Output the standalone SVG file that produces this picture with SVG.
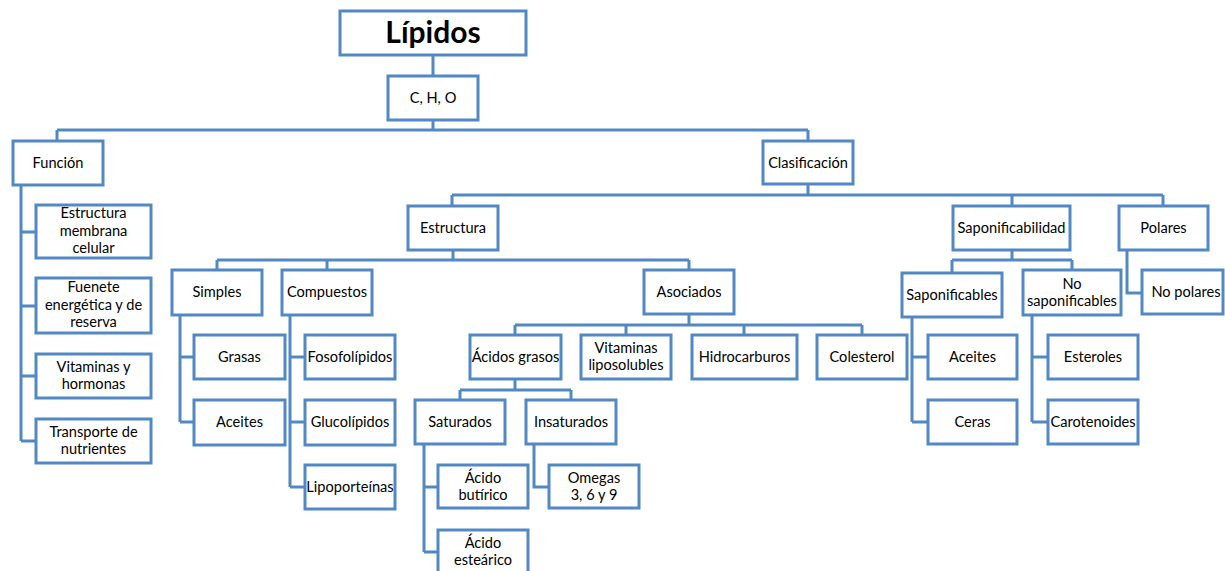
<svg xmlns="http://www.w3.org/2000/svg" width="1225" height="571" viewBox="0 0 1225 571">
  <style>
    .box { fill: #ffffff; stroke: #5289C4; stroke-width: 3; }
    .link { fill: none; stroke: #5289C4; stroke-width: 3; stroke-linejoin: miter; }
    text { font-family: Lato, "Open Sans", "Liberation Sans", sans-serif; font-size: 14.6px; fill: #000000; text-anchor: middle; }
    .title { font-size: 30px; font-weight: bold; }
  </style>
  <rect width="1225" height="571" fill="#ffffff"/>

  <!-- connectors -->
  <g id="connectors" class="link">
    <path d="M433,56 V75"/>
    <path d="M433,121 V130 M57,130 H808 M57,130 V140 M808,130 V140"/>
    <path d="M21,186 V441 M21,232 H35 M21,306 H35 M21,376 H35 M21,441 H35"/>
    <path d="M808,185 V195 M452,195 H1163 M452,195 V205 M1012,195 V205 M1163,195 V205"/>
    <path d="M453,251 V260 M217,260 H689 M217,260 V269 M327,260 V269 M689,260 V269"/>
    <path d="M180,316 V422 M180,357 H193 M180,422 H193"/>
    <path d="M290,316 V487 M290,357 H304 M290,422 H304 M290,487 H304"/>
    <path d="M689,315 V325 M515,325 H862 M515,325 V334 M626,325 V334 M744,325 V334 M862,325 V334"/>
    <path d="M515,380 V390 M460,390 H571 M460,390 V399 M571,390 V399"/>
    <path d="M424,445 V552 M424,487 H437 M424,552 H437"/>
    <path d="M534,445 V487 H548"/>
    <path d="M1012,251 V260 M952,260 H1072 M952,260 V272 M1072,260 V269"/>
    <path d="M912,318 V422 M912,357 H927 M912,422 H927"/>
    <path d="M1032,316 V422 M1032,357 H1047 M1032,422 H1047"/>
    <path d="M1127,251 V293 H1141"/>
  </g>

  <!-- root -->
  <g id="lipidos"><rect class="box" x="340" y="11" width="186" height="44"/><text class="title" x="433" y="43">Lípidos</text></g>
  <g id="cho"><rect class="box" x="388" y="76" width="90" height="44"/><text x="433" y="103">C, H, O</text></g>

  <!-- Función branch -->
  <g id="funcion"><rect class="box" x="13" y="141" width="90" height="44"/><text x="58" y="168">Función</text></g>
  <g id="estructura-membrana"><rect class="box" x="36" y="205" width="115" height="53"/><text x="93.5" y="218">Estructura</text><text x="93.5" y="236">membrana</text><text x="93.5" y="253">celular</text></g>
  <g id="fuente-energetica"><rect class="box" x="36" y="278" width="115" height="55"/><text x="93.5" y="292">Fuenete</text><text x="93.5" y="310">energética y de</text><text x="93.5" y="327">reserva</text></g>
  <g id="vitaminas-hormonas"><rect class="box" x="36" y="354" width="115" height="44"/><text x="93.5" y="372">Vitaminas y</text><text x="93.5" y="389">hormonas</text></g>
  <g id="transporte"><rect class="box" x="36" y="419" width="115" height="44"/><text x="93.5" y="437">Transporte de</text><text x="93.5" y="454">nutrientes</text></g>

  <!-- Clasificación branch -->
  <g id="clasificacion"><rect class="box" x="763" y="141" width="90" height="43"/><text x="808" y="168">Clasificación</text></g>
  <g id="estructura"><rect class="box" x="408" y="206" width="90" height="44"/><text x="453" y="233">Estructura</text></g>
  <g id="saponificabilidad"><rect class="box" x="953" y="206" width="117" height="44"/><text x="1011.5" y="233">Saponificabilidad</text></g>
  <g id="polares"><rect class="box" x="1119" y="206" width="89" height="44"/><text x="1163.5" y="233">Polares</text></g>

  <g id="simples"><rect class="box" x="172" y="270" width="90" height="45"/><text x="217" y="297">Simples</text></g>
  <g id="compuestos"><rect class="box" x="282" y="270" width="90" height="45"/><text x="327" y="297">Compuestos</text></g>
  <g id="asociados"><rect class="box" x="644" y="270" width="90" height="44"/><text x="689" y="297">Asociados</text></g>

  <g id="grasas"><rect class="box" x="194" y="335" width="91" height="44"/><text x="239.5" y="362">Grasas</text></g>
  <g id="aceites-simples"><rect class="box" x="194" y="400" width="91" height="45"/><text x="239.5" y="427">Aceites</text></g>

  <g id="fosfolipidos"><rect class="box" x="305" y="335" width="90" height="44"/><text x="350" y="362">Fosofolípidos</text></g>
  <g id="glucolipidos"><rect class="box" x="305" y="400" width="90" height="45"/><text x="350" y="427">Glucolípidos</text></g>
  <g id="lipoproteinas"><rect class="box" x="305" y="465" width="90" height="44"/><text x="350" y="492">Lipoporteínas</text></g>

  <g id="acidos-grasos"><rect class="box" x="470" y="335" width="91" height="44"/><text x="515.5" y="362">Ácidos grasos</text></g>
  <g id="vitaminas-liposolubles"><rect class="box" x="581" y="335" width="90" height="44"/><text x="626" y="353">Vitaminas</text><text x="626" y="370">liposolubles</text></g>
  <g id="hidrocarburos"><rect class="box" x="692" y="335" width="105" height="44"/><text x="744.5" y="362">Hidrocarburos</text></g>
  <g id="colesterol"><rect class="box" x="817" y="335" width="90" height="44"/><text x="862" y="362">Colesterol</text></g>

  <g id="saturados"><rect class="box" x="415" y="400" width="90" height="44"/><text x="460" y="427">Saturados</text></g>
  <g id="insaturados"><rect class="box" x="526" y="400" width="90" height="44"/><text x="571" y="427">Insaturados</text></g>
  <g id="acido-butirico"><rect class="box" x="438" y="465" width="90" height="43"/><text x="483" y="483">Ácido</text><text x="483" y="500">butírico</text></g>
  <g id="acido-estearico"><rect class="box" x="438" y="530" width="90" height="44"/><text x="483" y="548">Ácido</text><text x="483" y="565">esteárico</text></g>
  <g id="omegas"><rect class="box" x="549" y="465" width="90" height="43"/><text x="594" y="483">Omegas</text><text x="594" y="500">3, 6 y 9</text></g>

  <g id="saponificables"><rect class="box" x="902" y="273" width="100" height="44"/><text x="952" y="300">Saponificables</text></g>
  <g id="no-saponificables"><rect class="box" x="1023" y="270" width="98" height="45"/><text x="1072" y="289">No</text><text x="1072" y="306">saponificables</text></g>
  <g id="aceites-saponificables"><rect class="box" x="928" y="335" width="89" height="44"/><text x="972.5" y="362">Aceites</text></g>
  <g id="ceras"><rect class="box" x="928" y="400" width="89" height="44"/><text x="972.5" y="427">Ceras</text></g>
  <g id="esteroles"><rect class="box" x="1048" y="335" width="90" height="44"/><text x="1093" y="362">Esteroles</text></g>
  <g id="carotenoides"><rect class="box" x="1048" y="400" width="90" height="44"/><text x="1093" y="427">Carotenoides</text></g>
  <g id="no-polares"><rect class="box" x="1142" y="270" width="81" height="44"/><text x="1186" y="297">No polares</text></g>
</svg>
